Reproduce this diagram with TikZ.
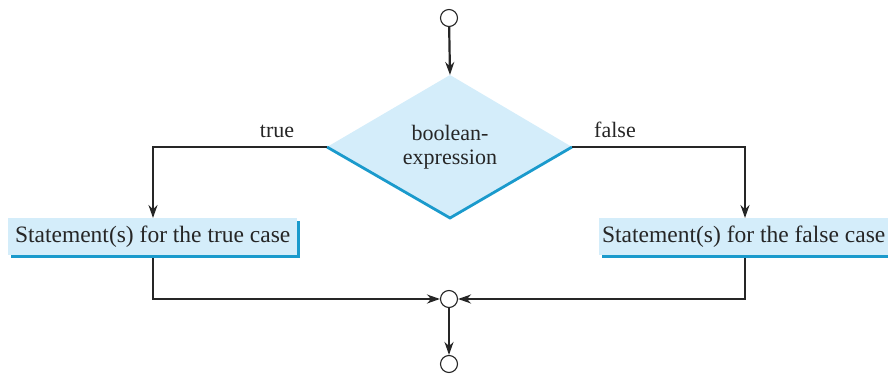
\documentclass[tikz,border=0pt]{standalone}
\usepackage{fontspec}
\setmainfont{Liberation Serif}
\usetikzlibrary{arrows.meta,shapes.geometric}
\definecolor{lightfill}{HTML}{D4EDFA}
\definecolor{edgeblue}{HTML}{1A9ACC}
\tikzset{
  conn/.style={line width=2.2pt, draw=black!85, -{Stealth[length=13pt,width=9pt]}},
  dot/.style={circle, draw=black!85, line width=1.1pt, fill=white, minimum size=17pt, inner sep=0pt},
  lbl/.style={font=\fontsize{22}{24}\selectfont, text=black!85},
  stmt/.style={font=\fontsize{23.5}{25}\selectfont, text=black!85, fill=lightfill, minimum height=37pt, inner sep=0pt, anchor=north west}
}
\begin{document}
\begin{tikzpicture}[x=1pt,y=-1pt]
\useasboundingbox (0,0) rectangle (888,377);
% top start circle
\node[dot] (start) at (449,18) {};
% diamond
\coordinate (dt) at (450,75);
\coordinate (dl) at (327,147);
\coordinate (dr) at (572,147);
\coordinate (db) at (450,218);
\fill[lightfill] (dt) -- (dr) -- (db) -- (dl) -- cycle;
\draw[line width=2.8pt, edgeblue, line join=miter] (dl) -- (db) -- (dr);
\node[align=center, font=\fontsize{22}{24}\selectfont, text=black!85] (cond) at (450,147) {boolean-\\expression};
\draw[conn] (start) -- (dt);
% boxes
\fill[edgeblue] (11,221) rectangle (300,258);
\node[stmt, minimum width=289pt] (tbox) at (8,218) {Statement(s) for the true case};
\fill[edgeblue] (602,221) rectangle (891,258);
\node[stmt, minimum width=289pt] (fbox) at (599,218) {Statement(s) for the false case};
% branch connectors
\coordinate (tc) at (153,147);
\coordinate (fc) at (745,147);
\draw[conn] (dl) -- (tc) -- (tc |- tbox.north);
\draw[conn] (dr) -- (fc) -- (fc |- fbox.north);
\node[lbl, anchor=south] (tl) at (277,141) {true};
\node[lbl, anchor=south] (fl) at (615,141) {false};
% merge
\node[dot] (merge) at (449,299) {};
\node[dot] (stop) at (449,364) {};
\coordinate (tb) at (153,299);
\coordinate (fb) at (745,299);
\draw[conn] (tc |- tbox.south) ++(0,3) -- (tb) -- (merge);
\draw[conn] (fc |- fbox.south) ++(0,3) -- (fb) -- (merge);
\draw[conn] (merge) -- (stop);
\end{tikzpicture}
\end{document}
